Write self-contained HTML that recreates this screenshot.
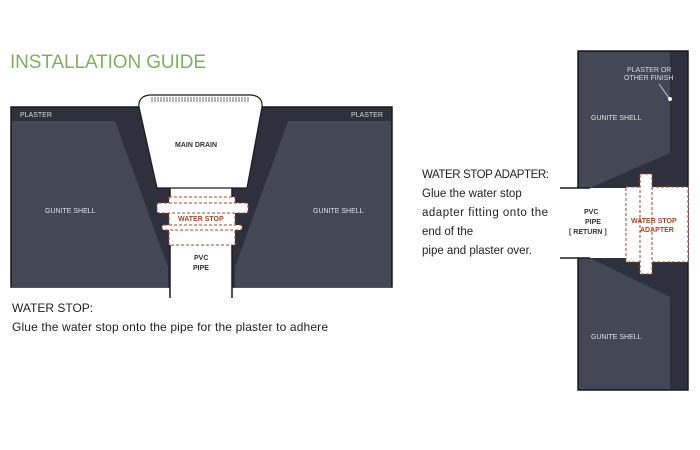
<!DOCTYPE html>
<html><head><style>
html,body{margin:0;padding:0;background:#fff;width:700px;height:450px;overflow:hidden}
svg{display:block}
text{font-family:"Liberation Sans",sans-serif}
</style></head><body>
<svg width="700" height="450" viewBox="0 0 700 450">
<text x="10" y="68" font-size="19" fill="#86ab68" textLength="196" lengthAdjust="spacing">INSTALLATION GUIDE</text>

<!-- LEFT DIAGRAM -->
<rect x="11" y="107" width="381" height="180" fill="#2e313b" stroke="#1a1b20" stroke-width="1.5"/>
<polygon points="12,121 115,121 168,267 168,287 12,287" fill="#444754"/>
<polygon points="391,121 288,121 235,267 235,287 391,287" fill="#444754"/>
<text x="20" y="117" font-size="7" fill="#d8d9de">PLASTER</text>
<text x="351" y="117" font-size="7" fill="#d8d9de">PLASTER</text>
<text x="45" y="213" font-size="7" fill="#e0e1e5">GUNITE SHELL</text>
<text x="313" y="213" font-size="7" fill="#e0e1e5">GUNITE SHELL</text>
<rect x="170" y="186" width="62" height="114" fill="#fff"/>
<line x1="170" y1="186" x2="170" y2="298" stroke="#1a1b20" stroke-width="1.5"/>
<line x1="232" y1="186" x2="232" y2="298" stroke="#1a1b20" stroke-width="1.5"/>
<path d="M139,107 Q138,96 150,95 L251,95 Q263,96 262,107 L247,188 L157,188 Z" fill="#fff" stroke="#1a1b20" stroke-width="1.2"/>
<g stroke="#444" stroke-width="0.8">
<path d="M152,97v5M155,97v5M158,97v5M161,97v5M164,97v5M167,97v5M170,97v5M173,97v5M176,97v5M179,97v5M182,97v5M185,97v5M188,97v5M191,97v5M194,97v5M197,97v5M200,97v5M203,97v5M206,97v5M209,97v5M212,97v5M215,97v5M218,97v5M221,97v5M224,97v5M227,97v5M230,97v5M233,97v5M236,97v5M239,97v5M242,97v5M245,97v5M248,97v5"/>
</g>
<text x="175" y="147" font-size="7" font-weight="bold" fill="#333">MAIN DRAIN</text>
<g fill="#fff" stroke="#a0482a" stroke-width="1" stroke-dasharray="3,2">
<rect x="169" y="197" width="66" height="48"/>
<rect x="157" y="203" width="91" height="10" rx="2"/>
<rect x="162" y="225" width="80" height="5" rx="2"/>
</g>
<text x="178" y="221" font-size="7" font-weight="bold" fill="#a0482a">WATER STOP</text>
<text x="194" y="260" font-size="7" font-weight="bold" fill="#333">PVC</text>
<text x="193" y="270" font-size="7" font-weight="bold" fill="#333">PIPE</text>

<text x="12" y="312" font-size="12" fill="#222">WATER STOP:</text>
<text x="12" y="331" font-size="12" fill="#222" textLength="316">Glue the water stop onto the pipe for the plaster to adhere</text>

<text x="422" y="178" font-size="11.5" fill="#222" textLength="127">WATER STOP ADAPTER:</text>
<text x="422" y="197" font-size="11.5" fill="#222">Glue the water stop</text>
<text x="422" y="216" font-size="11.5" fill="#222" textLength="126">adapter fitting onto the</text>
<text x="422" y="235" font-size="11.5" fill="#222">end of the</text>
<text x="422" y="254" font-size="11.5" fill="#222">pipe and plaster over.</text>

<!-- RIGHT DIAGRAM -->
<rect x="578" y="51" width="110" height="339" fill="#2e313b" stroke="#1a1b20" stroke-width="1.5"/>
<polygon points="579,52 670,52 670,153 590,188 579,188" fill="#444754"/>
<polygon points="579,389 670,389 670,297 590,258 579,258" fill="#444754"/>
<rect x="560" y="188" width="68" height="70" fill="#fff"/>
<line x1="560" y1="188" x2="590" y2="188" stroke="#1a1b20" stroke-width="1.5"/>
<line x1="560" y1="258" x2="590" y2="258" stroke="#1a1b20" stroke-width="1.5"/>
<g fill="#fff" stroke="#a0482a" stroke-width="1" stroke-dasharray="3,2">
<rect x="626" y="187" width="62" height="75"/>
<rect x="640" y="174" width="12" height="100"/>
</g>
<rect x="641" y="188" width="10" height="73" fill="#fff"/>
<text x="627" y="72" font-size="7" fill="#d8d9de">PLASTER OR</text>
<text x="624" y="80" font-size="7" fill="#d8d9de">OTHER FINISH</text>
<line x1="659" y1="84" x2="669" y2="98" stroke="#ddd" stroke-width="0.8"/>
<circle cx="670" cy="99" r="2" fill="#fff"/>
<text x="591" y="120" font-size="7" fill="#e0e1e5">GUNITE SHELL</text>
<text x="591" y="339" font-size="7" fill="#e0e1e5">GUNITE SHELL</text>
<text x="584" y="214" font-size="7" font-weight="bold" fill="#333">PVC</text>
<text x="585" y="224" font-size="7" font-weight="bold" fill="#333">PIPE</text>
<text x="569" y="234" font-size="7" font-weight="bold" fill="#333">[ RETURN ]</text>
<text x="631" y="223" font-size="7" font-weight="bold" fill="#a0482a">WATER STOP</text>
<text x="640" y="232" font-size="7" font-weight="bold" fill="#a0482a">ADAPTER</text>
</svg>
</body></html>
